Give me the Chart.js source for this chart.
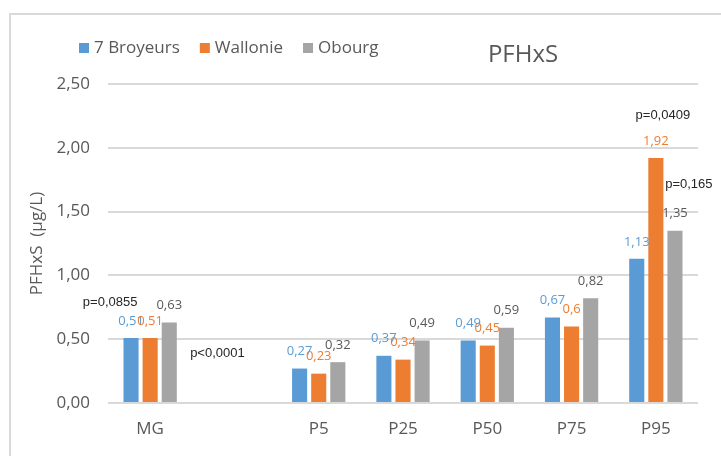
<!DOCTYPE html>
<html>
<head>
<meta charset="utf-8">
<script src="https://cdn.jsdelivr.net/npm/chart.js@4.4.1/dist/chart.umd.min.js"></script>
<style>
    html, body { margin: 0; padding: 0; background: #fff; }
    .frame {
        position: absolute; left: 9px; top: 13px; width: 800px; height: 500px;
        border-left: 2px solid #D9D9D9; border-top: 2px solid #D9D9D9;
    }
    #wrap { position: absolute; left: 0; top: 0; width: 721px; height: 456px; }
</style>
</head>
<body>
<div class="frame"></div>
<div id="wrap"><canvas id="pfhxsChart"></canvas></div>
<script>
// Data
const categories = ['MG', '', 'P5', 'P25', 'P50', 'P75', 'P95'];
const broyeurs = [0.51, null, 0.27, 0.37, 0.49, 0.67, 1.13];
const wallonie = [0.51, null, 0.23, 0.34, 0.45, 0.60, 1.92];
const obourg = [0.63, null, 0.32, 0.49, 0.59, 0.82, 1.35];
const seriesNames = ['7 Broyeurs', 'Wallonie', 'Obourg'];
const yTicks = [0, 0.5, 1, 1.5, 2, 2.5];

// p-value notes: category index, horizontal shift, height on value axis
const pNotes = [
    { text: 'p=0,0855', cat: 0, dx: -40, value: 0.79 },
    { text: 'p<0,0001', cat: 1, dx: -17, value: 0.39 },
    { text: 'p=0,0409', cat: 6, dx: 7, value: 2.25 },
    { text: 'p=0,165', cat: 6, dx: 33, value: 1.71 }
];

const colors = ['#5B9BD5', '#ED7D31', '#A5A5A5'];
const labelColors = ['#5B9BD5', '#ED7D31', '#595959'];
const textGrey = '#595959';
const fontFamily = '"Open Sans", sans-serif';

const fmt = v => String(v).replace('.', ',');

// value labels, p-values, legend and title
const overlayPlugin = {
    id: 'overlay',
    afterDatasetsDraw(chart) {
        const ctx = chart.ctx;
        ctx.save();
        ctx.textAlign = 'center';
        ctx.textBaseline = 'middle';
        ctx.font = '13px ' + fontFamily;
        chart.data.datasets.forEach((ds, i) => {
            chart.getDatasetMeta(i).data.forEach((bar, j) => {
                if (ds.data[j] == null) return;
                ctx.fillStyle = labelColors[i];
                ctx.fillText(fmt(ds.data[j]), bar.x, bar.y - 17);
            });
        });

        const xs = chart.scales.x, ys = chart.scales.y;
        ctx.fillStyle = '#262626';
        ctx.font = '13px "Liberation Sans", sans-serif';
        pNotes.forEach(n => {
            ctx.fillText(n.text, xs.getPixelForValue(n.cat) + n.dx, ys.getPixelForValue(n.value));
        });

        // legend
        ctx.textAlign = 'left';
        ctx.font = '17px ' + fontFamily;
        let x = 79;
        chart.data.datasets.forEach((ds, i) => {
            ctx.fillStyle = ds.backgroundColor;
            ctx.fillRect(x, 43, 10, 10);
            ctx.fillStyle = textGrey;
            ctx.fillText(ds.label, x + 15, 48);
            x += 15 + ctx.measureText(ds.label).width + 20;
        });

        // title
        ctx.textAlign = 'center';
        ctx.font = '24px ' + fontFamily;
        ctx.fillText('PFHxS', 523, 55);
        ctx.restore();
    }
};

new Chart(document.getElementById('pfhxsChart'), {
    type: 'bar',
    data: {
        labels: categories,
        datasets: [
            { label: seriesNames[0], data: broyeurs, backgroundColor: colors[0] },
            { label: seriesNames[1], data: wallonie, backgroundColor: colors[1] },
            { label: seriesNames[2], data: obourg, backgroundColor: colors[2] }
        ]
    },
    options: {
        responsive: true,
        maintainAspectRatio: false,
        animation: false,
        categoryPercentage: 0.68,
        barPercentage: 0.79,
        layout: { padding: { top: 84, right: 23, left: 27, bottom: 0 } },
        plugins: {
            legend: { display: false },
            tooltip: { enabled: false }
        },
        scales: {
            x: {
                grid: { display: false },
                border: { display: false },
                ticks: { color: textGrey, font: { family: fontFamily, size: 17 }, padding: 8 },
                afterFit(scale) { scale.height = 53; }
            },
            y: {
                min: 0,
                max: 2.5,
                afterBuildTicks(scale) { scale.ticks = yTicks.map(v => ({ value: v })); },
                grid: { color: '#D9D9D9', lineWidth: 2, drawTicks: false },
                border: { display: false },
                ticks: {
                    color: textGrey,
                    font: { family: fontFamily, size: 17 },
                    padding: 18,
                    callback: v => v.toFixed(2).replace('.', ',')
                },
                title: {
                    display: true,
                    text: 'PFHxS  (µg/L)',
                    color: textGrey,
                    font: { family: fontFamily, size: 17 },
                    padding: { top: 0, bottom: 0 }
                },
                afterFit(scale) { scale.width = 81; }
            }
        }
    },
    plugins: [overlayPlugin]
});
</script>
</body>
</html>
